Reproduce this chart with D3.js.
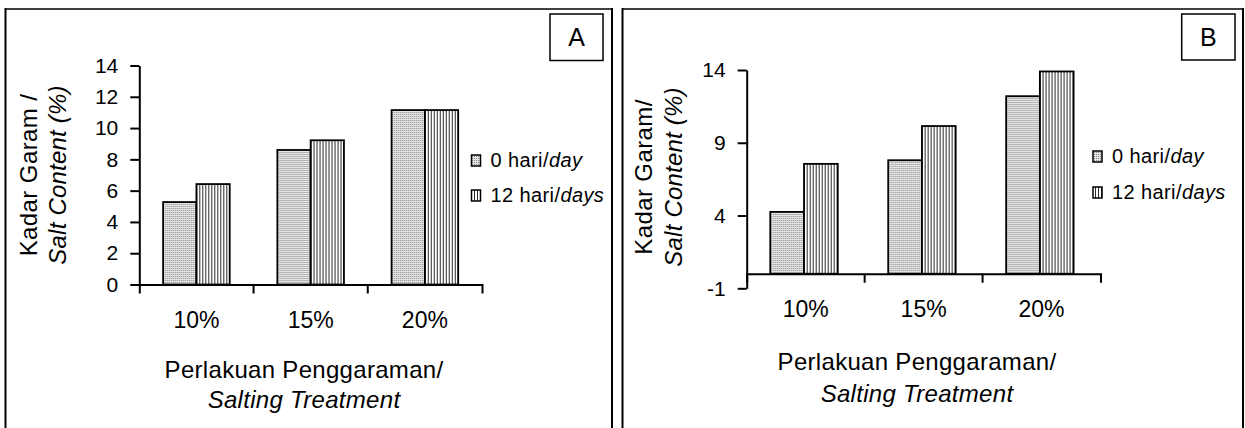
<!DOCTYPE html>
<html>
<head>
<meta charset="utf-8">
<script src="https://cdn.jsdelivr.net/npm/d3@7"></script>
<style>
  html, body { margin: 0; padding: 0; background: #fff; }
  svg { display: block; }
  text { font-family: "Liberation Sans", Arial, Helvetica, sans-serif; fill: #000; }
</style>
</head>
<body>
<script>
// ---------------- data ----------------
const categories = ["10%", "15%", "20%"];
const seriesPlain = ["0 hari/", "12 hari/"];
const seriesItalic = ["day", "days"];
const panelLetters = ["A", "B"];

const valuesA0 = [5.27, 8.6, 11.15];
const valuesA12 = [6.42, 9.22, 11.15];
const valuesB0 = [4.25, 7.8, 12.2];
const valuesB12 = [7.55, 10.15, 13.9];

const ticksA = [0, 2, 4, 6, 8, 10, 12, 14];
const ticksB = [-1, 4, 9, 14];

const xTitle1 = "Perlakuan Penggaraman/";
const xTitle2 = "Salting Treatment";
const yTitleA1 = "Kadar Garam /";
const yTitleB1 = "Kadar Garam/";
const yTitle2 = "Salt Content (%)";

// ---------------- drawing ----------------
const W = 1245, H = 428;
const svg = d3.select("body").append("svg").attr("width", W).attr("height", H);
svg.append("rect").attr("width", W).attr("height", H).attr("fill", "#fff");

const defs = svg.append("defs");
const pd = defs.append("pattern").attr("id", "dots").attr("patternUnits", "userSpaceOnUse")
  .attr("width", 2).attr("height", 2);
pd.append("rect").attr("width", 2).attr("height", 2).attr("fill", "#e4e4e4");
pd.append("rect").attr("width", 1).attr("height", 1).attr("fill", "#8a8a8a");
const ps = defs.append("pattern").attr("id", "stripes").attr("patternUnits", "userSpaceOnUse")
  .attr("width", 3).attr("height", 3);
ps.append("rect").attr("width", 3).attr("height", 3).attr("fill", "#fff");
ps.append("rect").attr("width", 1).attr("height", 3).attr("fill", "#2a2a2a");
const fills = ["url(#dots)", "url(#stripes)"];

function panel(o) {
  const g = svg.append("g");

  // frame
  g.append("line").attr("x1", o.frame[0]).attr("x2", o.frame[0]).attr("y1", 8).attr("y2", 440)
    .attr("stroke", "#000").attr("stroke-width", 2);
  g.append("line").attr("x1", o.frame[1]).attr("x2", o.frame[1]).attr("y1", 8).attr("y2", 440)
    .attr("stroke", "#000").attr("stroke-width", 2);
  g.append("line").attr("x1", o.frame[0]).attr("x2", o.frame[1]).attr("y1", 9).attr("y2", 9)
    .attr("stroke", "#000").attr("stroke-width", 1.5);

  // letter box
  g.append("rect").attr("x", o.box[0]).attr("y", o.box[1]).attr("width", o.box[2]).attr("height", o.box[3])
    .attr("fill", "#fff").attr("stroke", "#000").attr("stroke-width", 1.5);
  g.append("text").attr("x", o.box[0] + o.box[2] / 2).attr("y", o.box[1] + o.box[3] / 2)
    .attr("text-anchor", "middle").attr("dy", "0.36em").style("font-size", "25px").text(o.letter);

  const x = d3.scaleBand().domain(categories).range(o.xr).paddingInner(0).paddingOuter(0);
  const y = d3.scaleLinear().domain(o.yd).range(o.yr);
  const bw = x.bandwidth();
  const x1 = d3.scaleBand().domain([0, 1]).range([bw * o.grp[0], bw * o.grp[1]]);

  const rows = categories.map((c, i) => ({ c, v: [o.s0[i], o.s1[i]] }));
  g.append("g").selectAll("g").data(rows).join("g")
    .attr("transform", d => `translate(${x(d.c)},0)`)
    .selectAll("rect").data(d => d.v.map((v, k) => ({ v, k }))).join("rect")
    .attr("x", d => x1(d.k)).attr("width", x1.bandwidth())
    .attr("y", d => y(Math.max(0, d.v))).attr("height", d => Math.abs(y(d.v) - y(0)))
    .attr("fill", d => fills[d.k]).attr("stroke", "#000").attr("stroke-width", 1.8);

  // y axis
  const ya = g.append("g").attr("transform", `translate(${o.xr[0]},0)`)
    .call(d3.axisLeft(y).tickValues(o.ticks).tickFormat(d => String(d))
      .tickSize(9).tickSizeOuter(0).tickPadding(o.tp));
  ya.selectAll("path, line").attr("stroke", "#000").attr("stroke-width", 2);
  ya.selectAll("text").style("font-size", "21px").attr("fill", "#000");

  // x axis at zero
  const xa = g.append("g").attr("transform", `translate(0,${y(0)})`)
    .call(d3.axisBottom(x).tickSize(0).tickSizeOuter(9).tickPadding(27));
  xa.selectAll("path, line").attr("stroke", "#000").attr("stroke-width", 2);
  xa.selectAll("text").style("font-size", "23px").attr("fill", "#000");
  for (let i = 1; i < categories.length; i++) {
    const xx = o.xr[0] + i * x.step();
    xa.append("line").attr("x1", xx).attr("x2", xx).attr("y1", 0).attr("y2", 9)
      .attr("stroke", "#000").attr("stroke-width", 2);
  }

  // x title
  g.append("text").attr("x", o.xtc).attr("y", o.xtb[0]).attr("text-anchor", "middle")
    .style("font-size", "24px").style("letter-spacing", "0.3px").text(xTitle1);
  g.append("text").attr("x", o.xtc).attr("y", o.xtb[1]).attr("text-anchor", "middle")
    .style("font-size", "24px").style("letter-spacing", "0.3px").style("font-style", "italic").text(xTitle2);

  // y title
  g.append("text").attr("transform", `translate(${o.ytb[0]},${o.ytc}) rotate(-90)`).attr("text-anchor", "middle")
    .style("font-size", "24px").style("letter-spacing", "0.4px").text(o.yt1);
  g.append("text").attr("transform", `translate(${o.ytb[1]},${o.ytc}) rotate(-90)`).attr("text-anchor", "middle")
    .style("font-size", "24px").style("letter-spacing", "0.2px").style("font-style", "italic").text(yTitle2);

  // legend
  [0, 1].forEach(k => {
    g.append("rect").attr("x", o.lx).attr("y", o.ly[k]).attr("width", 9).attr("height", 11)
      .attr("fill", fills[k]).attr("stroke", "#000").attr("stroke-width", 1.5);
    const t = g.append("text").attr("x", o.lx + 19).attr("y", o.ly[k] + 11.5)
      .style("font-size", "20px").style("letter-spacing", "0.4px");
    t.append("tspan").text(seriesPlain[k]);
    t.append("tspan").style("font-style", "italic").text(seriesItalic[k]);
  });
}

panel({
  letter: panelLetters[0], frame: [5.5, 612], box: [550, 14, 53, 46.5],
  xr: [139.3, 482], yd: [0, 14], yr: [284.5, 65.5], ticks: ticksA, tp: 12,
  grp: [0.2085, 0.7915], s0: valuesA0, s1: valuesA12,
  xtc: 304, xtb: [378, 408], ytb: [37, 66], ytc: 175, yt1: yTitleA1,
  lx: 471.5, ly: [155, 190]
});
panel({
  letter: panelLetters[1], frame: [622.5, 1243], box: [1181.7, 14, 53.3, 46],
  xr: [746.7, 1100.5], yd: [-1, 14], yr: [288.3, 70], ticks: ticksB, tp: 12,
  grp: [0.2, 0.772], s0: valuesB0, s1: valuesB12,
  xtc: 917, xtb: [370, 401.7], ytb: [652, 682], ytc: 177, yt1: yTitleB1,
  lx: 1093, ly: [151, 187]
});
</script>
</body>
</html>
